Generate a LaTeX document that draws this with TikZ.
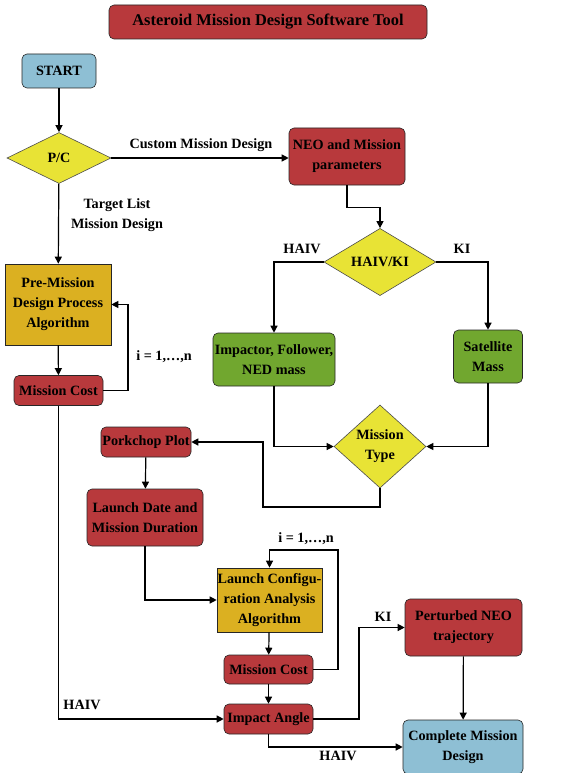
\documentclass[tikz,border=0pt]{standalone}
\usepackage{fontspec}
\setmainfont{Liberation Serif}
\usetikzlibrary{arrows.meta,shapes.geometric,calc}
\definecolor{cred}{HTML}{B8393C}
\definecolor{cblue}{HTML}{8EBFD4}
\definecolor{cyel}{HTML}{E8E335}
\definecolor{cgreen}{HTML}{71A72F}
\definecolor{cgold}{HTML}{DBB021}
\begin{document}
\begin{tikzpicture}[x=1pt,y=-1pt,
  txt/.style={font=\fontsize{14.2}{20}\selectfont\bfseries, align=center},
  box/.style={txt, draw=black!85, line width=0.6pt, rounded corners=5pt, inner sep=0pt},
  redbox/.style={box, fill=cred},
  bluebox/.style={box, fill=cblue},
  greenbox/.style={box, fill=cgreen},
  goldbox/.style={box, fill=cgold, rounded corners=0pt},
  dia/.style={txt, diamond, draw=black!70, line width=0.6pt, fill=cyel, inner sep=0pt},
  conn/.style={draw, line width=1.2pt, -{Triangle[length=7pt,width=7pt]}},
  lbl/.style={txt}
]
\useasboundingbox (0,0) rectangle (576,773);
% nodes
\node[redbox, minimum width=318, minimum height=34, font=\fontsize{16.4}{20}\selectfont\bfseries] (title) at (268,22) {Asteroid Mission Design Software Tool};
\node[bluebox, minimum width=74, minimum height=34] (start) at (59,71) {START};
\node[dia, minimum width=104, minimum height=51] (pc) at (59,158) {P/C};
\node[redbox, minimum width=116, minimum height=57] (neo) at (347,156.5) {NEO and Mission\\parameters};
\node[dia, minimum width=112, minimum height=60] (hk) at (380,262) {HAIV/KI};
\node[greenbox, minimum width=122, minimum height=53] (imp) at (274,359.5) {Impactor, Follower,\\NED mass};
\node[greenbox, minimum width=69, minimum height=53] (sat) at (488,356.5) {Satellite\\Mass};
\node[dia, minimum width=92, minimum height=83] (mt) at (380,446.5) {Mission\\Type};
\node[goldbox, minimum width=106, minimum height=81] (pre) at (58,304.5) {Pre-Mission\\Design Process\\Algorithm};
\node[redbox, minimum width=89, minimum height=30] (mc1) at (58.5,390.5) {Mission Cost};
\node[redbox, minimum width=90, minimum height=30] (pork) at (146,442) {Porkchop Plot};
\node[redbox, minimum width=116, minimum height=57] (ld) at (145,517.5) {Launch Date and\\Mission Duration};
\node[goldbox, minimum width=105, minimum height=64] (lca) at (269.5,600) {Launch Configu-\\ration Analysis\\Algorithm};
\node[redbox, minimum width=89, minimum height=29] (mc2) at (268.5,669.5) {Mission Cost};
\node[redbox, minimum width=89, minimum height=30] (ia) at (268.5,719) {Impact Angle};
\node[redbox, minimum width=117, minimum height=57] (pert) at (463.5,627.5) {Perturbed NEO\\trajectory};
\node[bluebox, minimum width=120, minimum height=54] (comp) at (463,747) {Complete Mission\\Design};
% labels
\node[lbl] (lcustom) at (201,145) {Custom Mission Design};
\node[lbl] (ltarget) at (117,215) {Target List\\Mission Design};
\node[lbl] (lhaiv1) at (302,249) {HAIV};
\node[lbl] (lki1) at (462,249) {KI};
\node[lbl] (li1) at (164,357) {i = 1,…,n};
\node[lbl] (li2) at (306,539) {i = 1,…,n};
\node[lbl] (lhaiv2) at (82,705) {HAIV};
\node[lbl] (lki2) at (383,617) {KI};
\node[lbl] (lhaiv3) at (338,756) {HAIV};
% coordinates
\coordinate (c1) at (263,507);
\coordinate (c2) at (338,550);
\coordinate (c3) at (359,719);
\coordinate (c4) at (128,390.5);
% connectors
\draw[conn] (start) -- (pc);
\draw[conn] (pc.east) -- (neo.west |- pc.east);
\draw[conn] (pc) -- (pre);
\draw[conn] (neo.south) -- ++(0,22) -| (hk.north);
\draw[conn] (hk.west) -| (imp.north);
\draw[conn] (hk.east) -| (sat.north);
\draw[conn] (imp.south) |- (mt.west);
\draw[conn] (sat.south) |- (mt.east);
\draw[conn] (mt.south) |- (c1) |- (pork.east);
\draw[conn] (pre) -- (mc1);
\draw[conn] (mc1.east) -- (c4) |- (pre.east);
\draw[conn] (pork) -- (ld);
\draw[conn] (ld.south) |- (lca.west);
\draw[conn] (lca) -- (mc2);
\draw[conn] (mc2.east) -| (c2) -| (lca.north);
\draw[conn] (mc2) -- (ia);
\draw[conn] (mc1.south) |- (ia.west);
\draw[conn] (ia.east) -- (c3) |- (pert.west);
\draw[conn] (pert) -- (comp);
\draw[conn] (ia.south) |- (comp.west);
\end{tikzpicture}
\end{document}
